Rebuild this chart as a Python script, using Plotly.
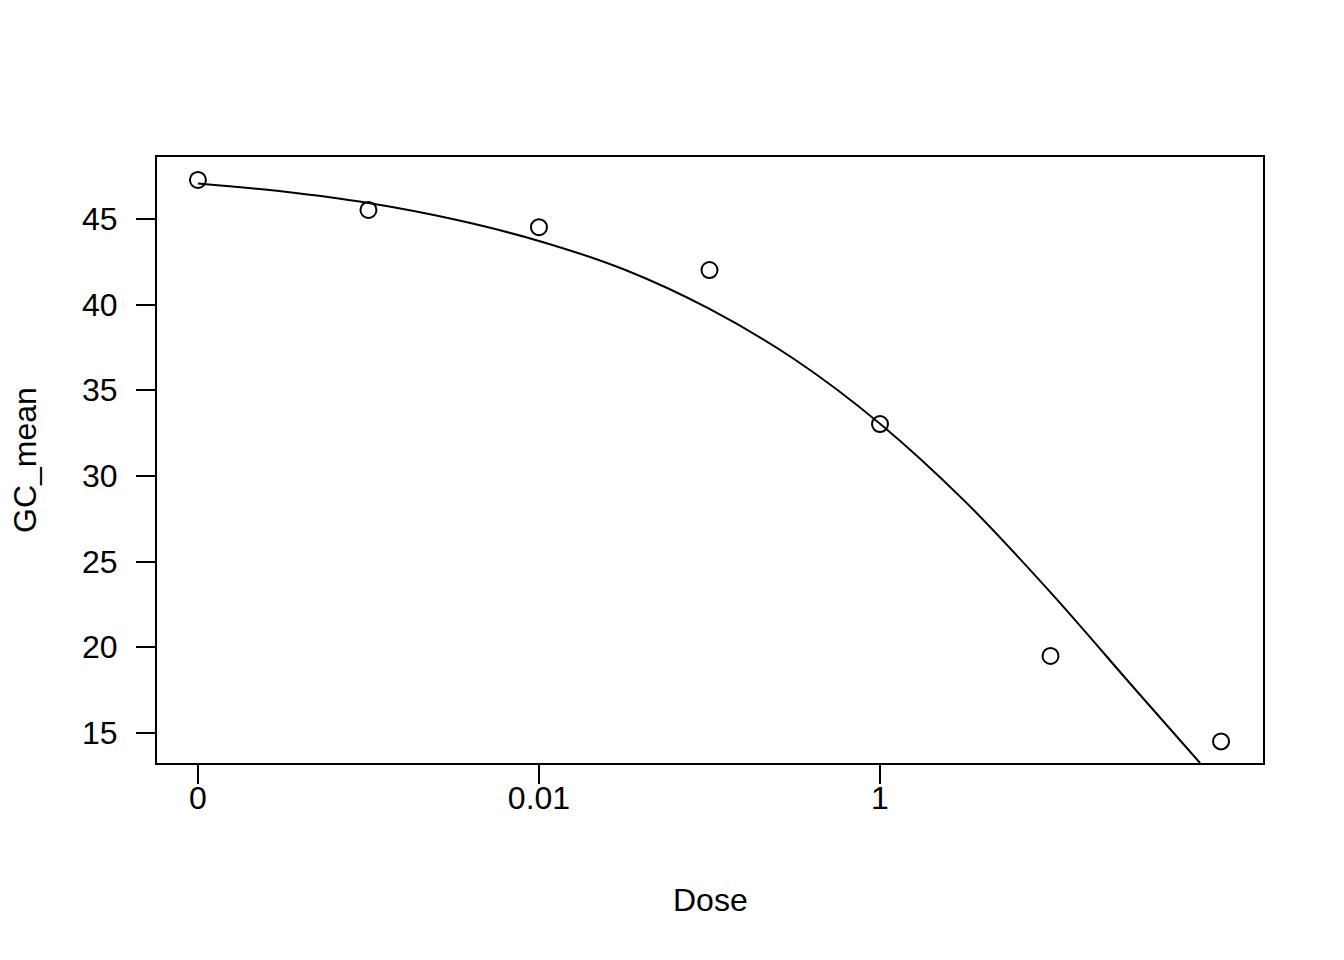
import plotly.graph_objects as go

# observed data (dose 0 drawn at 1e-4 on the log axis, as in the reference)
dose = [1e-4, 1e-3, 1e-2, 1e-1, 1, 10, 100]
gc_mean = [47.28, 45.53, 44.52, 42.02, 33.03, 19.49, 14.50]

# fitted curve
curve_dose = [1e-4, 3.162e-4, 1e-3, 3.162e-3, 1e-2, 0.03162, 0.1, 0.3162, 1, 3.162, 10, 31.62, 75.3]
curve_gc = [47.08, 46.60, 45.93, 44.98, 43.72, 42.05, 39.75, 36.80, 33.05, 28.50, 23.20, 17.50, 13.24]

x_tickvals = [1e-4, 1e-2, 1]
x_ticktext = ["0", "0.01", "1"]
y_tickvals = [15, 20, 25, 30, 35, 40, 45]

FONT = "Liberation Sans, Arial, Helvetica, sans-serif"

fig = go.Figure()
fig.add_trace(go.Scatter(
    x=curve_dose, y=curve_gc, mode="lines",
    line=dict(color="black", width=2, shape="spline", smoothing=1.0),
    showlegend=False, hoverinfo="skip"))
fig.add_trace(go.Scatter(
    x=dose, y=gc_mean, mode="markers",
    marker=dict(symbol="circle-open", size=16, color="black", line=dict(width=2, color="black")),
    showlegend=False, cliponaxis=False))

fig.update_layout(
    width=1344, height=960,
    margin=dict(l=157, r=81, t=157, b=197),
    paper_bgcolor="white", plot_bgcolor="white",
    font=dict(family=FONT, size=32, color="black"),
    xaxis=dict(type="log", range=[-4.24, 2.246], tickvals=x_tickvals, ticktext=x_ticktext,
               ticks="outside", ticklen=19, tickwidth=2, tickcolor="black",
               showline=True, mirror=True, linecolor="black", linewidth=2,
               showgrid=False, zeroline=False, tickfont=dict(size=32),
               ticklabelstandoff=-13),
    yaxis=dict(range=[13.24, 48.62], tickvals=y_tickvals,
               ticks="outside", ticklen=19, tickwidth=2, tickcolor="black",
               showline=True, mirror=True, linecolor="black", linewidth=2,
               showgrid=False, zeroline=False, tickfont=dict(size=32),
               ticklabelstandoff=12),
    shapes=[dict(type="line", xref="paper", yref="paper", x0=0, x1=0.943,
                 y0=-0.0016, y1=-0.0016, line=dict(color="black", width=2))],
    annotations=[
        dict(text="Dose", xref="paper", yref="paper", x=0.5, y=-0.226,
             showarrow=False, xanchor="center", yanchor="middle", font=dict(size=32)),
        dict(text="GC_mean", xref="paper", yref="paper", x=-0.1194, y=0.5,
             showarrow=False, xanchor="center", yanchor="middle", textangle=-90,
             font=dict(size=32)),
    ],
)

fig.write_html("out.html", config={"displayModeBar": False},
               post_script="document.body.style.margin='0';document.body.style.overflow='hidden';")
